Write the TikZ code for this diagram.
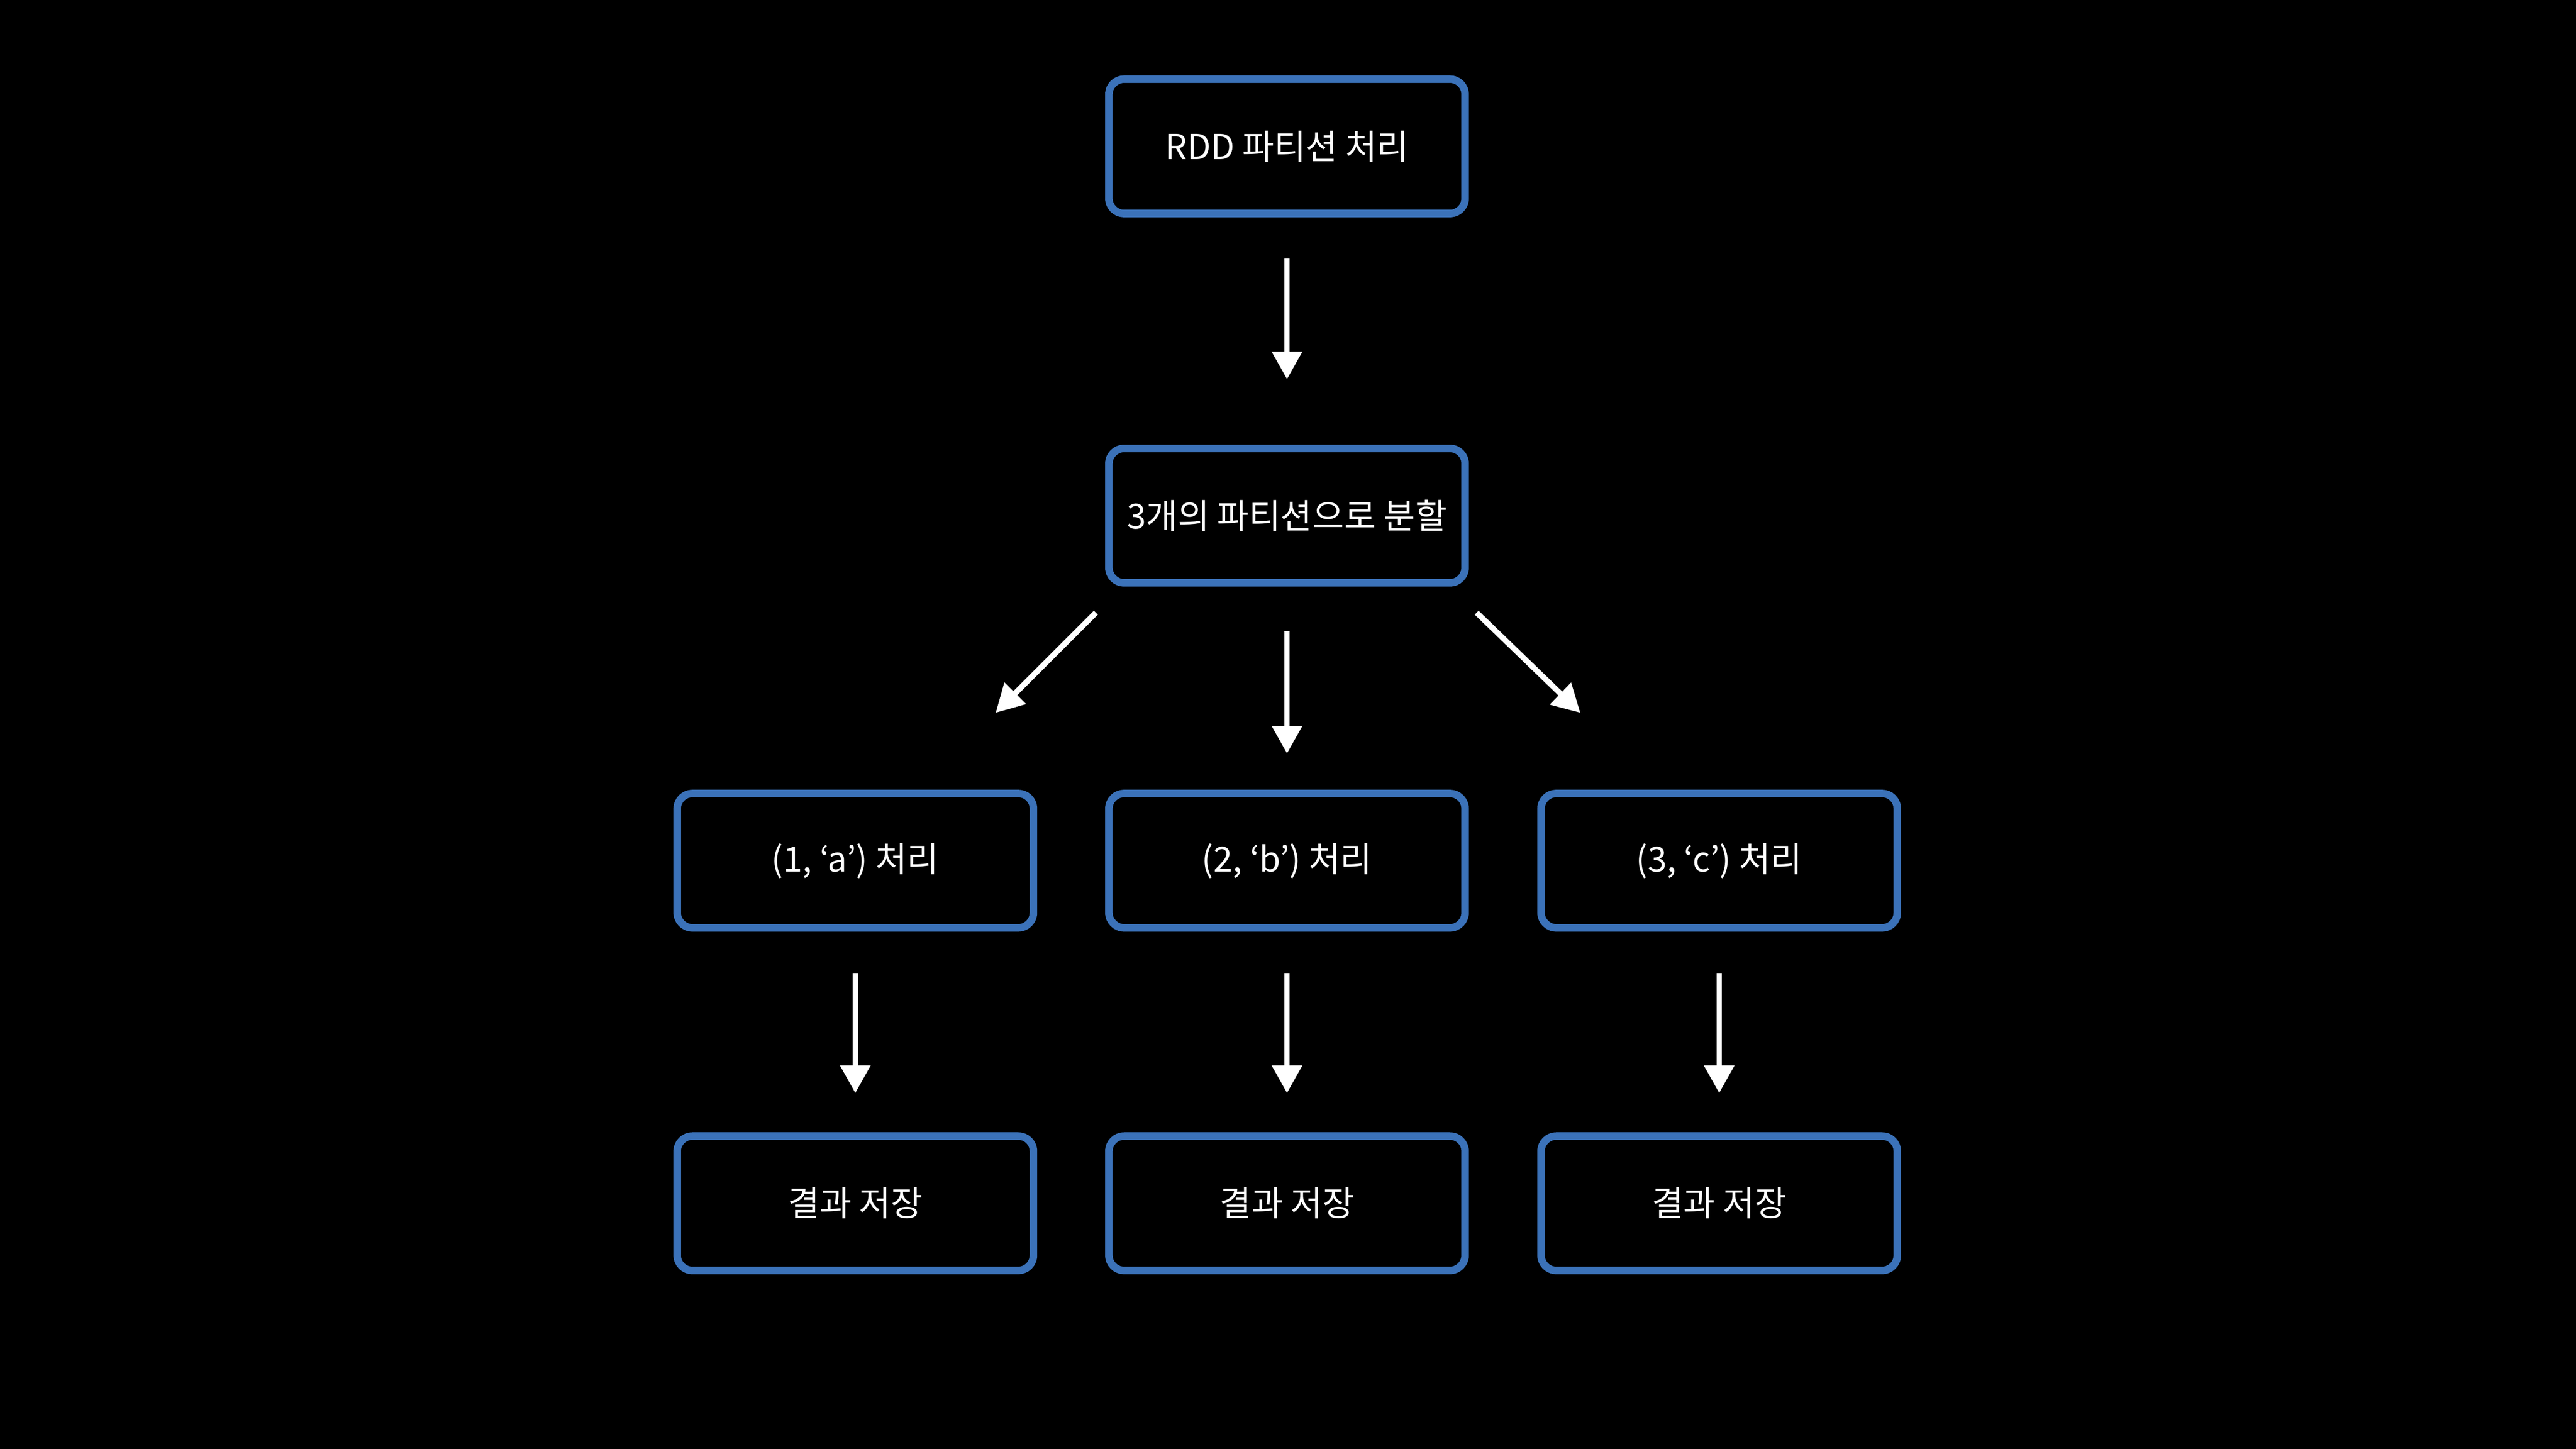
\documentclass[tikz,border=0pt]{standalone}
\usepackage{fontspec}
\setmainfont{Noto Sans CJK KR}
\usetikzlibrary{arrows.meta}
\definecolor{boxblue}{HTML}{3B72B9}
\tikzset{
  procbox/.style={draw=boxblue, line width=0.15cm, rounded corners=0.3cm,
    minimum width=7.08cm, minimum height=2.67cm, text=white,
    font=\fontsize{19.5}{23}\selectfont, inner sep=0pt},
  flow/.style={draw=white, line width=0.11cm,
    -{Triangle[width=0.58cm,length=0.55cm]}}
}
\begin{document}
\begin{tikzpicture}
\fill[black] (0,0) rectangle (51.2,28.8);
\useasboundingbox (0,0) rectangle (51.2,28.8);

\node[procbox] (top) at (25.58,25.89) {RDD 파티션 처리};
\node[procbox] (split) at (25.58,18.55) {3개의 파티션으로 분할};
\node[procbox] (p1) at (17.00,11.69) {(1, ‘a’) 처리};
\node[procbox] (p2) at (25.58,11.69) {(2, ‘b’) 처리};
\node[procbox] (p3) at (34.17,11.69) {(3, ‘c’) 처리};
\node[procbox] (r1) at (17.00,4.88) {결과 저장};
\node[procbox] (r2) at (25.58,4.88) {결과 저장};
\node[procbox] (r3) at (34.17,4.88) {결과 저장};

\coordinate (dls) at (21.78,16.62);
\coordinate (dle) at (19.79,14.63);
\coordinate (drs) at (29.35,16.62);
\coordinate (dre) at (31.41,14.63);

\draw[flow, shorten <=0.82cm, shorten >=1.30cm] (top) -- (split);
\draw[flow, shorten <=0.88cm, shorten >=0.72cm] (split.south) -- (p2.north);
\draw[flow] (dls) -- (dle);
\draw[flow] (drs) -- (dre);
\draw[flow, shorten <=0.82cm, shorten >=0.78cm] (p1.south) -- (r1.north);
\draw[flow, shorten <=0.82cm, shorten >=0.78cm] (p2.south) -- (r2.north);
\draw[flow, shorten <=0.82cm, shorten >=0.78cm] (p3.south) -- (r3.north);
\end{tikzpicture}
\end{document}
